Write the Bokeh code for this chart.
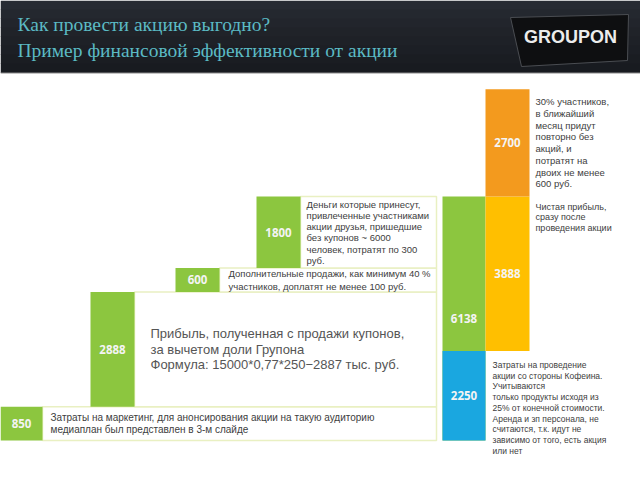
from bokeh.plotting import figure
from bokeh.models import Range1d
from bokeh.embed import file_html
from bokeh.resources import INLINE
from bokeh.core.properties import value

# ---------------- data ----------------
step_values = [850, 2888, 600, 1800]          # waterfall steps (тыс. руб.)
cost_value = 2250                              # затраты Кофеина
repeat_value = 2700                            # повторные визиты
total_value = sum(step_values)                 # 6138
net_value = total_value - cost_value           # 3888

step_notes = [
    ["Затраты на маркетинг, для анонсирования акции на такую аудиторию",
     "медиаплан был представлен в 3-м слайде"],
    ["Прибыль, полученная с продажи купонов,",
     "за вычетом доли Групона",
     "Формула: 15000*0,77*250\u22122887 тыс. руб."],
    ["Дополнительные продажи, как минимум 40 %",
     "участников, доплатят не менее 100 руб."],
    ["Деньги которые принесут,", "привлеченные участниками",
     "акции друзья, пришедшие", "без купонов ~ 6000",
     "человек, потратят по 300", "руб."],
]
repeat_note = ["30% участников,", "в ближайший", "месяц придут", "повторно без",
               "акций, и", "потратят на", "двоих не менее", "600 руб."]
net_note = ["Чистая прибыль,", "сразу после", "проведения акции"]
cost_note = ["Затраты на проведение", "акции со стороны Кофеина.", "Учитываются",
             "только продукты исходя из", "25% от конечной стоимости.",
             "Аренда и зп персонала, не", "считаются, т.к. идут не",
             "зависимо от того, есть акция", "или нет"]
title_lines = ["Как провести акцию выгодно?",
               "Пример финансовой эффективности от акции"]
logo_text = "GROUPON"

# ---------------- layout ----------------
W, H = 640, 480
BASE = 440                      # pixel row of value 0
K = 244.0 / total_value         # pixels per value unit


def vy(py):
    return (BASE - py) / K


def dv(dpx):
    return dpx / K


GREEN = "#8cc63f"
BLUE = "#1aa7e0"
YELLOW = "#ffbf00"
ORANGE = "#f39a1e"
TXT = "#404040"
SANS = value("Liberation Sans")
SERIF = value("Liberation Serif")

p = figure(width=W, height=H, x_range=Range1d(0, W), y_range=Range1d(vy(H), vy(0)),
           toolbar_location=None, output_backend="svg", x_axis_type=None,
           y_axis_type=None, min_border=0, outline_line_color=None,
           background_fill_color="white", border_fill_color="white")
p.grid.visible = False

# header band (gradient approximation)
bands = ["#272b33", "#24282f", "#22252c", "#202329", "#1e2127", "#1c1f25", "#1a1d22", "#181b20"]
bh = 72 / len(bands)
for i, c in enumerate(bands):
    p.quad(left=0, right=W, top=vy(i * bh), bottom=vy((i + 1) * bh + 0.5),
           fill_color=c, line_color=None)
p.segment(x0=0, x1=W, y0=vy(72.5), y1=vy(72.5), line_color="#8a8a8a", line_width=1)

for i, t in enumerate(title_lines):
    p.text(x=17, y=vy(24 + 26 * i), text=[t], text_font=SERIF,
           text_font_size="19.5px", text_color="#5bbac4", text_baseline="middle")

# logo
p.patch(x=[510, 628, 627, 521], y=[vy(17), vy(14), vy(60), vy(66)],
        fill_color="#0e0f11", line_color="#4a4d52", line_width=1)
p.text(x=570, y=vy(36), text=[logo_text], text_font=SANS,
       text_font_style="bold", text_font_size="18px", text_color="#ececec",
       text_align="center", text_baseline="middle")

# ---------------- waterfall steps ----------------
step_x = [(0, 42), (90, 134), (175, 219), (256, 300)]
note_dx = [8, 16, 9, 6]
note_size = [10, 13, 9.5, 9.5]
note_sp = [12, 15.5, 13, 11.2]
note_col = [TXT, "#555555", TXT, TXT]
BOX_RIGHT = 436

bottoms, tops = [], []
acc = 0
for v in step_values:
    bottoms.append(acc)
    acc += v
    tops.append(acc)

# note boxes
for (l, r), b, t in zip(step_x, bottoms, tops):
    p.quad(left=r, right=BOX_RIGHT, bottom=b, top=t, fill_color="white",
           line_color="#e9f0c2", line_width=1.5)

# bars
p.quad(left=[x[0] for x in step_x], right=[x[1] for x in step_x],
       bottom=bottoms, top=tops, fill_color=GREEN, line_color=None)
p.text(x=[(l + r) / 2 for l, r in step_x], y=[(b + t) / 2 for b, t in zip(bottoms, tops)],
       text=[str(v) for v in step_values], text_font=value("Open Sans"),
       text_font_style="bold", text_font_size="11.5px", text_color="#f4f4f4",
       text_align="center", text_baseline="middle")

# step notes
for k, ((l, r), b, t, lines) in enumerate(zip(step_x, bottoms, tops, step_notes)):
    c = (b + t) / 2
    n = len(lines)
    ys = [c - dv((i - (n - 1) / 2) * note_sp[k]) for i in range(n)]
    p.text(x=[r + note_dx[k]] * n, y=ys, text=lines, text_font=SANS,
           text_font_size=f"{note_size[k]}px", text_color=note_col[k],
           text_baseline="middle")

# ---------------- total / split columns ----------------
TL, TR = 442, 485
RL, RR = 485, 529
p.quad(left=TL, right=TR, bottom=0, top=total_value, fill_color=GREEN, line_color=None)
p.quad(left=TL, right=TR, bottom=0, top=cost_value, fill_color=BLUE, line_color=None)
p.quad(left=RL, right=RR, bottom=cost_value, top=total_value, fill_color=YELLOW, line_color=None)
p.quad(left=RL, right=RR, bottom=total_value, top=total_value + repeat_value,
       fill_color=ORANGE, line_color=None)

p.text(x=[(TL + TR) / 2, (TL + TR) / 2, (RL + RR) / 2, (RL + RR) / 2],
       y=[total_value / 2, cost_value / 2, (cost_value + total_value) / 2,
          total_value + repeat_value / 2],
       text=[str(total_value), str(cost_value), str(net_value), str(repeat_value)],
       text_font=value("Open Sans"), text_font_style="bold", text_font_size="11.5px",
       text_color="#f4f4f4", text_align="center", text_baseline="middle")

# right notes
n = len(repeat_note)
c = total_value + repeat_value / 2
p.text(x=[RR + 6] * n, y=[c - dv((i - (n - 1) / 2) * 11.7) for i in range(n)],
       text=repeat_note, text_font=SANS, text_font_size="9.5px",
       text_color=TXT, text_baseline="middle")

n = len(net_note)
p.text(x=[RR + 6] * n, y=[total_value - dv(10 + 10.5 * i) for i in range(n)],
       text=net_note, text_font=SANS, text_font_size="9px",
       text_color=TXT, text_baseline="middle")

n = len(cost_note)
p.text(x=[RL + 7] * n, y=[cost_value - dv(14 + 10.7 * i) for i in range(n)],
       text=cost_note, text_font=SANS, text_font_size="8.5px",
       text_color=TXT, text_baseline="middle")

open("out.html", "w").write(file_html(p, INLINE))
